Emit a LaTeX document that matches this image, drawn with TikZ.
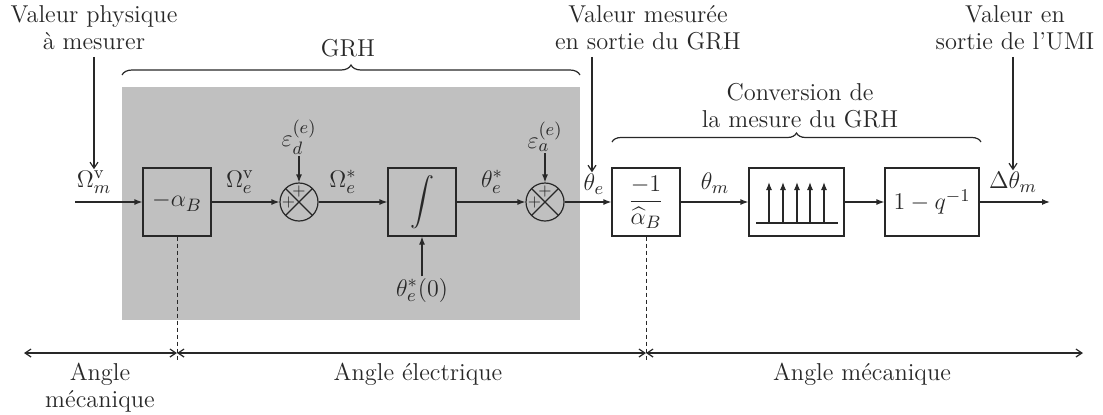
\documentclass[tikz,border=0pt]{standalone}
\usepackage{amsmath}
\usetikzlibrary{arrows.meta,decorations.pathreplacing,calc}
\definecolor{grhgray}{RGB}{192,192,192}
\definecolor{ln}{RGB}{40,40,40}
\begin{document}
\begin{tikzpicture}[x=0.5pt,y=-0.5pt,
  font=\fontsize{12.2}{13.6}\selectfont,
  color=ln,
  every path/.style={line width=0.6pt},
  blk/.style={draw=ln,line width=0.6pt,minimum width=34pt,minimum height=34pt,inner sep=1pt},
  sumnode/.style={draw=ln,line width=0.6pt,circle,minimum size=19pt,inner sep=0pt,
    path picture={\draw[ln,line width=0.6pt] (path picture bounding box.north west) -- (path picture bounding box.south east)
      (path picture bounding box.south west) -- (path picture bounding box.north east);}},
  sig/.style={-{Latex[length=4pt,width=3pt]}},
  ann/.style={-{Straight Barb[length=3pt,width=4pt]}},
  span/.style={{Straight Barb[length=3pt,width=4pt]}-{Straight Barb[length=3pt,width=4pt]}},
  lbl/.style={inner sep=0.5pt},
  txt/.style={align=center,inner sep=0pt},
  brc/.style={decorate,decoration={brace,amplitude=#1}},
  brc/.default=5pt]
\useasboundingbox (0,0) rectangle (1103,414);
% gray background
\fill[grhgray] (122,87) rectangle (580,320);
% blocks
\node[blk] (a) at (177,202) {$-\alpha_B$};
\node[sumnode] (s1) at (299,202) {};
\node[blk] (int) at (422,202) {$\displaystyle\int$};
\node[sumnode] (s2) at (545,202) {};
\node[blk] (c) at (646,202) {$\dfrac{-1}{\widehat{\alpha}_B}$};
\node[blk,minimum width=47.5pt] (samp) at (796.5,202) {};
\node[blk,minimum width=47pt] (d) at (932,202) {$1-q^{-1}$};
\coordinate (in) at (75,202);
\coordinate (out) at (1050,202);
% plus signs
\node[font=\fontsize{8}{8}\selectfont,inner sep=0pt] at ($(s1.west)+(9,0)$) {$+$};
\node[font=\fontsize{8}{8}\selectfont,inner sep=0pt] at ($(s1.north)+(0,9)$) {$+$};
\node[font=\fontsize{8}{8}\selectfont,inner sep=0pt] at ($(s2.west)+(9,0)$) {$+$};
\node[font=\fontsize{8}{8}\selectfont,inner sep=0pt] at ($(s2.north)+(0,9)$) {$+$};
% sampler symbol
\draw (756,223) -- (838,223);
\foreach \xx in {769,783,797,810,824} \draw[sig] (\xx,223) -- (\xx,182);
% signal connectors
\draw[sig] (in) -- (a);
\draw[sig] (a) -- (s1);
\draw[sig] (s1) -- (int);
\draw[sig] (int) -- (s2);
\draw[sig] (s2) -- (c);
\draw[sig] (c) -- (samp);
\draw[sig] (samp) -- (d);
\draw[sig] (d) -- (out);
% signal labels
\node[lbl] (lOm) at (94,182) {$\Omega_m^{\mathrm{v}}$};
\node[lbl] at (240,182) {$\Omega_e^{\mathrm{v}}$};
\node[lbl] at (343,182) {$\Omega_e^{*}$};
\node[lbl] at (492,182) {$\theta_e^{*}$};
\node[lbl] (lte) at (594,184) {$\theta_e$};
\node[lbl] at (715,183) {$\theta_m$};
\node[lbl] (ldt) at (1013,182) {$\Delta\theta_m$};
% disturbances
\node[lbl] (ed) at (299,137) {$\varepsilon_d^{(e)}$};
\node[lbl] (ea) at (545,137) {$\varepsilon_a^{(e)}$};
\node[lbl] (t0) at (422,290) {$\theta_e^{*}(0)$};
\draw[sig] (ed) -- (s1);
\draw[sig] (ea) -- (s2);
\draw[sig] (t0) -- (int);
% top annotations
\node[txt] (vp) at (94,28) {Valeur physique\\à mesurer};
\node[txt] (vm) at (648,28) {Valeur mesurée\\en sortie du GRH};
\node[txt] (vu) at (1015,28) {Valeur en\\sortie de l'UMI};
\draw[ann] (lOm.north |- vp.south) ++(0,6) -- (lOm.north);
\draw[ann] ($(lte.north |- vm.south)+(-2,6)$) -- ($(lte.north)+(-2,0)$);
\draw[ann] (ldt.north |- vu.south) ++(0,6) -- (ldt.north);
% braces
\draw[brc=5pt] (122,75) -- (580,75);
\node[txt] (grh) at (348,48) {GRH};
\draw[brc=4.5pt] (612,142) -- (981,142);
\node[txt] (conv) at (800,106) {Conversion de\\la mesure du GRH};
% dashed dividers
\coordinate (d1) at (177,362);
\coordinate (d2) at (646,362);
\draw[line width=0.4pt,dash pattern=on 2pt off 1.5pt] (a.south) -- (d1);
\draw[line width=0.4pt,dash pattern=on 2pt off 1.5pt] (c.south) -- (d2);
% spans
\coordinate (L0) at (24,353);
\coordinate (L1) at (177,353);
\coordinate (L2) at (646,353);
\coordinate (L3) at (1083,353);
\draw[span] (L0) -- (L1);
\draw[span] (L1) -- (L2);
\draw[span] (L2) -- (L3);
\node[txt] at (100,388) {Angle\\mécanique};
\node[txt] at (418,374) {Angle électrique};
\node[txt] at (862,374) {Angle mécanique};
\end{tikzpicture}
\end{document}
